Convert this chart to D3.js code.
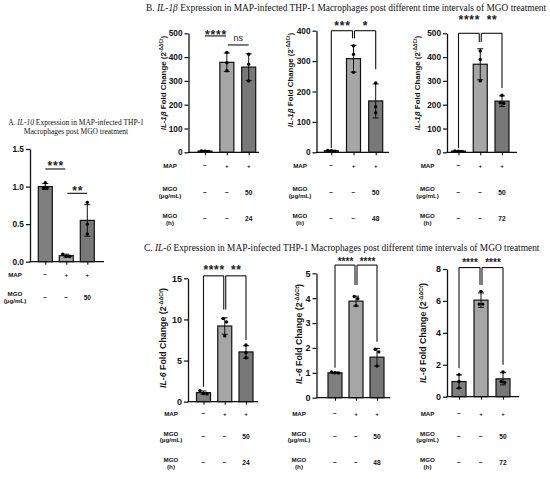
<!DOCTYPE html>
<html><head><meta charset="utf-8">
<script src="https://cdn.jsdelivr.net/npm/d3@7"></script>
<style>body{margin:0;background:#fff}</style>
</head><body>
<svg id="c" width="550" height="479"></svg>
<script>
// ---------------- DATA ----------------
const groups = ["Control", "MAP", "MAP + MGO"];
const rowMAP = ["−", "+", "+"];
const rowDose = ["−", "−", "50"];

// Panel A: IL-10
const A_mean = [1.00, 0.08, 0.55];
const A_sd = [0.04, 0.02, 0.21];
const A_dots = [[1.05, 0.98, 0.98], [0.10, 0.07, 0.07], [0.79, 0.50, 0.37]];
const A_ticks = [0, 0.5, 1.0, 1.5];
const A_sig = ["***", "**"];

// Panel B: IL-1β at 24, 48, 72 h
const B24_mean = [5, 378, 358];
const B24_sd = [2, 39, 56];
const B24_dots = [[6, 4, 5], [420, 376, 343], [412, 370, 300]];
const B24_ticks = [0, 100, 200, 300, 400, 500];
const B24_sig = ["****", "ns"];
const B24_time = ["−", "−", "24"];

const B48_mean = [5, 308, 169];
const B48_sd = [2, 44, 56];
const B48_dots = [[6, 4, 5], [350, 322, 263], [228, 150, 130]];
const B48_ticks = [0, 100, 200, 300, 400];
const B48_sig = ["***", "*"];
const B48_time = ["−", "−", "48"];

const B72_mean = [5, 370, 215];
const B72_sd = [2, 65, 22];
const B72_dots = [[6, 4, 5], [426, 390, 300], [240, 208, 205]];
const B72_ticks = [0, 100, 200, 300, 400, 500];
const B72_sig = ["****", "**"];
const B72_time = ["−", "−", "72"];

// Panel C: IL-6 at 24, 48, 72 h
const C24_mean = [1.1, 9.2, 6.05];
const C24_sd = [0.2, 1.0, 0.75];
const C24_dots = [[1.35, 1.0, 0.95], [10.1, 9.7, 8.0], [6.9, 5.95, 5.35]];
const C24_ticks = [0, 5, 10, 15];
const C24_sig = ["****", "**"];

const C48_mean = [1.0, 3.88, 1.63];
const C48_sd = [0.03, 0.2, 0.35];
const C48_dots = [[1.03, 1.0, 0.99], [4.07, 3.98, 3.7], [1.95, 1.84, 1.27]];
const C48_ticks = [0, 1, 2, 3, 4, 5];
const C48_sig = ["****", "****"];

const C72_mean = [0.95, 6.05, 1.12];
const C72_sd = [0.42, 0.45, 0.38];
const C72_dots = [[1.38, 0.95, 0.55], [6.6, 5.8, 5.8], [1.55, 0.95, 0.9]];
const C72_ticks = [0, 2, 4, 6, 8];
const C72_sig = ["****", "****"];

// ---------------- STYLE / LAYOUT ----------------
const barColors = ["#7f7f7f", "#a6a6a6", "#787878"];
const sans = "'Liberation Sans', Arial, sans-serif";
const serif = "'Liberation Serif', 'Times New Roman', serif";
const svg = d3.select("#c");

function drawPanel(L, mean, sd, dots, ticks, sig, rows) {
  const g = svg.append("g");
  const y = d3.scaleLinear().domain([0, L.max]).range([L.y0, L.yTop]);
  const x = d3.scalePoint().domain(groups).range(L.centers);
  const bw = 14;

  g.selectAll("rect.bar").data(groups).join("rect")
    .attr("x", d => x(d) - bw / 2)
    .attr("y", (d, i) => y(mean[i]))
    .attr("width", bw)
    .attr("height", (d, i) => L.y0 - y(mean[i]))
    .attr("fill", (d, i) => barColors[i])
    .attr("stroke", "#111").attr("stroke-width", 1.2);

  groups.forEach((gr, i) => {
    const cx = x(gr);
    const lo = y(mean[i] - sd[i]), hi = y(mean[i] + sd[i]);
    g.append("line").attr("x1", cx).attr("x2", cx).attr("y1", lo).attr("y2", hi)
      .attr("stroke", "#111").attr("stroke-width", 1);
    [lo, hi].forEach(v => g.append("line").attr("x1", cx - 3).attr("x2", cx + 3)
      .attr("y1", v).attr("y2", v).attr("stroke", "#111").attr("stroke-width", 1));
  });

  groups.forEach((gr, i) => {
    const cx = x(gr);
    const pts = dots[i].map(v => ({ v, py: y(v), dx: 0 }));
    const sorted = pts.slice().sort((a, b) => a.py - b.py);
    let clusters = [], cur = [sorted[0]];
    for (let k = 1; k < sorted.length; k++) {
      if (sorted[k].py - cur[cur.length - 1].py < 3.6) cur.push(sorted[k]);
      else { clusters.push(cur); cur = [sorted[k]]; }
    }
    clusters.push(cur);
    clusters.forEach(cl => {
      const n = cl.length;
      cl.forEach((p, k) => { p.dx = (k - (n - 1) / 2) * 3.6; });
    });
    g.selectAll(null).data(pts).join("circle")
      .attr("cx", p => cx + p.dx).attr("cy", p => p.py).attr("r", 1.7).attr("fill", "#000");
  });

  const ya = d3.axisLeft(y).tickValues(ticks).tickSize(4).tickSizeOuter(0)
    .tickFormat(L.fmt ? d3.format(L.fmt) : d3.format("d"));
  const yg = g.append("g").attr("transform", `translate(${L.axisX},0)`).call(ya);
  yg.select(".domain").attr("stroke", "#111").attr("stroke-width", 1.3);
  yg.selectAll(".tick line").attr("stroke", "#111").attr("stroke-width", 1.2);
  yg.selectAll(".tick text").attr("font-family", sans).attr("font-weight", "bold")
    .attr("font-size", L.tickFs).attr("fill", "#111").attr("x", -6);

  g.append("line").attr("x1", L.axisX - 0.6).attr("x2", L.axisEnd).attr("y1", L.y0).attr("y2", L.y0)
    .attr("stroke", "#111").attr("stroke-width", 1.3);
  const xa = d3.axisBottom(x).tickSize(3).tickFormat("");
  const xg = g.append("g").attr("transform", `translate(0,${L.y0})`).call(xa);
  xg.select(".domain").remove();
  xg.selectAll(".tick line").attr("stroke", "#111").attr("stroke-width", 1.1);

  if (L.label) {
    const t = g.append("text")
      .attr("transform", `translate(${L.labelX},${L.labelY}) rotate(-90)`)
      .attr("text-anchor", "middle").attr("font-family", sans).attr("font-weight", "bold")
      .attr("font-size", L.labelFs).attr("fill", "#111");
    t.append("tspan").attr("font-style", "italic").text(L.label);
    t.append("tspan").text(" Fold Change (2");
    t.append("tspan").attr("font-size", L.labelFs * 0.62).attr("dy", -L.labelFs * 0.38).text("-ΔΔCt");
    t.append("tspan").attr("dy", L.labelFs * 0.38).text(")");
  }

  const c = groups.map(gr => x(gr));
  const pairs = [[c[0], c[1] - 1], [c[1] + 1, c[2]]];
  pairs.forEach((pr, k) => {
    const S = L.sig[k];
    const ly = y(S.y);
    g.append("line").attr("x1", pr[0]).attr("x2", pr[1]).attr("y1", ly).attr("y2", ly)
      .attr("stroke", "#111").attr("stroke-width", 1.1);
    if (S.legs) {
      g.append("line").attr("x1", pr[0]).attr("x2", pr[0]).attr("y1", ly).attr("y2", y(S.legs[0]))
        .attr("stroke", "#111").attr("stroke-width", 1.1);
      g.append("line").attr("x1", pr[1]).attr("x2", pr[1]).attr("y1", ly).attr("y2", y(S.legs[1]))
        .attr("stroke", "#111").attr("stroke-width", 1.1);
    }
    const isNs = sig[k] === "ns";
    const fs = isNs ? 9 : L.starFs;
    const cy = ly - S.d;
    g.append("text").attr("x", (pr[0] + pr[1]) / 2 + (isNs ? 0 : 0.5))
      .attr("y", cy + (isNs ? 0.27 : 0.58) * fs)
      .attr("text-anchor", "middle").attr("font-family", sans)
      .attr("font-weight", isNs ? "normal" : "bold")
      .attr("letter-spacing", isNs ? 0 : L.starLs)
      .attr("font-size", fs).attr("fill", "#222").text(sig[k]);
  });

  rows.forEach(r => {
    r.label.forEach((ln, k) => {
      g.append("text").attr("x", L.rowLabelX).attr("y", r.ly[k])
        .attr("text-anchor", "middle").attr("dominant-baseline", "central")
        .attr("font-family", sans).attr("font-weight", "bold").attr("font-size", 6.2)
        .attr("fill", "#111").text(ln);
    });
    r.vals.forEach((v, i) => {
      g.append("text").attr("x", x(groups[i])).attr("y", r.vy)
        .attr("text-anchor", "middle").attr("dominant-baseline", "central")
        .attr("font-family", sans).attr("font-weight", "bold")
        .attr("font-size", v === "+" ? 6.2 : 6.6).attr("fill", "#111").text(v);
    });
  });
}

const rowsA = [
  { label: ["MAP"], ly: [274], vals: rowMAP, vy: 274 },
  { label: ["MGO", "(µg/mL)"], ly: [293, 300.5], vals: rowDose, vy: 297 }
];
const rowsB = t => [
  { label: ["MAP"], ly: [165], vals: rowMAP, vy: 165 },
  { label: ["MGO", "(µg/mL)"], ly: [188.5, 195.5], vals: rowDose, vy: 192 },
  { label: ["MGO", "(h)"], ly: [215, 222], vals: t, vy: 218.5 }
];
const rowsC = t => [
  { label: ["MAP"], ly: [413], vals: rowMAP, vy: 413 },
  { label: ["MGO", "(µg/mL)"], ly: [433, 439.5], vals: rowDose, vy: 436 },
  { label: ["MGO", "(h)"], ly: [459.5, 466], vals: t, vy: 462.5 }
];

function title(x, y, parts, fs, anchor) {
  const t = svg.append("text").attr("x", x).attr("y", y).attr("text-anchor", anchor || "start")
    .attr("font-family", serif).attr("font-size", fs).attr("fill", "#111");
  parts.forEach(p => t.append("tspan").attr("font-style", p[1] ? "italic" : "normal").text(p[0]));
}
title(76, 124.5, [["A. ", 0], ["IL-10", 1], [" Expression in MAP-infected THP-1", 0]], 7.5, "middle");
title(76, 133.5, [["Macrophages post MGO treatment", 0]], 7.5, "middle");
title(146, 11, [["B. ", 0], ["IL-1β", 1], [" Expression in MAP-infected THP-1 Macrophages post different time intervals of MGO treatment", 0]], 9.4);
title(144, 251, [["C. ", 0], ["IL-6", 1], [" Expression in MAP-infected THP-1 Macrophages post different time intervals of MGO treatment", 0]], 9.4);

drawPanel({ axisX: 30, axisEnd: 104, y0: 261.7, yTop: 149, max: 1.5, centers: [45.3, 87.3],
  fmt: ".1f", tickFs: 8.3, rowLabelX: 15, starFs: 12, starLs: 0.8,
  sig: [{ y: 1.234, d: 6.3 }, { y: 0.91, d: 5.6 }] },
  A_mean, A_sd, A_dots, A_ticks, A_sig, rowsA);

drawPanel({ axisX: 188.5, axisEnd: 259, y0: 152.3, yTop: 33.3, max: 500, centers: [205, 248.7],
  tickFs: 8.3, rowLabelX: 170, starFs: 12, starLs: 0.8, label: "IL-1β", labelX: 166, labelY: 83, labelFs: 7.9,
  sig: [{ y: 489, d: 4.3 }, { y: 451, d: 6 }] },
  B24_mean, B24_sd, B24_dots, B24_ticks, B24_sig, rowsB(B24_time));

drawPanel({ axisX: 316.5, axisEnd: 389, y0: 152.3, yTop: 30.7, max: 400, centers: [331.3, 375.7],
  tickFs: 8.3, rowLabelX: 300, starFs: 12, starLs: 0.8, label: "IL-1β", labelX: 293, labelY: 80, labelFs: 7.9,
  sig: [{ y: 400, d: 7.7, legs: [14, 375] }, { y: 400, d: 7.7, legs: [375, 273] }] },
  B48_mean, B48_sd, B48_dots, B48_ticks, B48_sig, rowsB(B48_time));

drawPanel({ axisX: 447, axisEnd: 517, y0: 152.3, yTop: 33.3, max: 500, centers: [458.5, 502],
  tickFs: 8.3, rowLabelX: 427.5, starFs: 12, starLs: 0.8, label: "IL-1β", labelX: 420, labelY: 83, labelFs: 7.9,
  sig: [{ y: 500, d: 16, legs: [18, 463] }, { y: 500, d: 16, legs: [463, 270] }] },
  B72_mean, B72_sd, B72_dots, B72_ticks, B72_sig, rowsB(B72_time));

drawPanel({ axisX: 188, axisEnd: 258, y0: 401.7, yTop: 278.3, max: 15, centers: [203.5, 246],
  tickFs: 9, rowLabelX: 171, starFs: 12, starLs: 0.6, label: "IL-6", labelX: 166, labelY: 338, labelFs: 8.8,
  sig: [{ y: 15.3, d: 9, legs: [1.82, 11.2] }, { y: 15.3, d: 9, legs: [11.2, 7.5] }] },
  C24_mean, C24_sd, C24_dots, C24_ticks, C24_sig, rowsC(["−", "−", "24"]));

drawPanel({ axisX: 316.5, axisEnd: 390, y0: 397.7, yTop: 273.3, max: 5, centers: [335, 377],
  tickFs: 9, rowLabelX: 299, starFs: 10, starLs: 0, label: "IL-6", labelX: 302, labelY: 334, labelFs: 8.8,
  sig: [{ y: 5.33, d: 6, legs: [1.2, 4.53] }, { y: 5.33, d: 6, legs: [4.53, 2.25] }] },
  C48_mean, C48_sd, C48_dots, C48_ticks, C48_sig, rowsC(["−", "−", "48"]));

drawPanel({ axisX: 447, axisEnd: 519, y0: 396.7, yTop: 269, max: 8, centers: [459, 503],
  tickFs: 9, rowLabelX: 427.5, starFs: 10, starLs: 0, label: "IL-6", labelX: 426, labelY: 333, labelFs: 8.8,
  sig: [{ y: 8.09, d: 7.7, legs: [1.78, 7.0] }, { y: 8.09, d: 7.7, legs: [7.0, 2.0] }] },
  C72_mean, C72_sd, C72_dots, C72_ticks, C72_sig, rowsC(["−", "−", "72"]));
</script>
</body></html>
